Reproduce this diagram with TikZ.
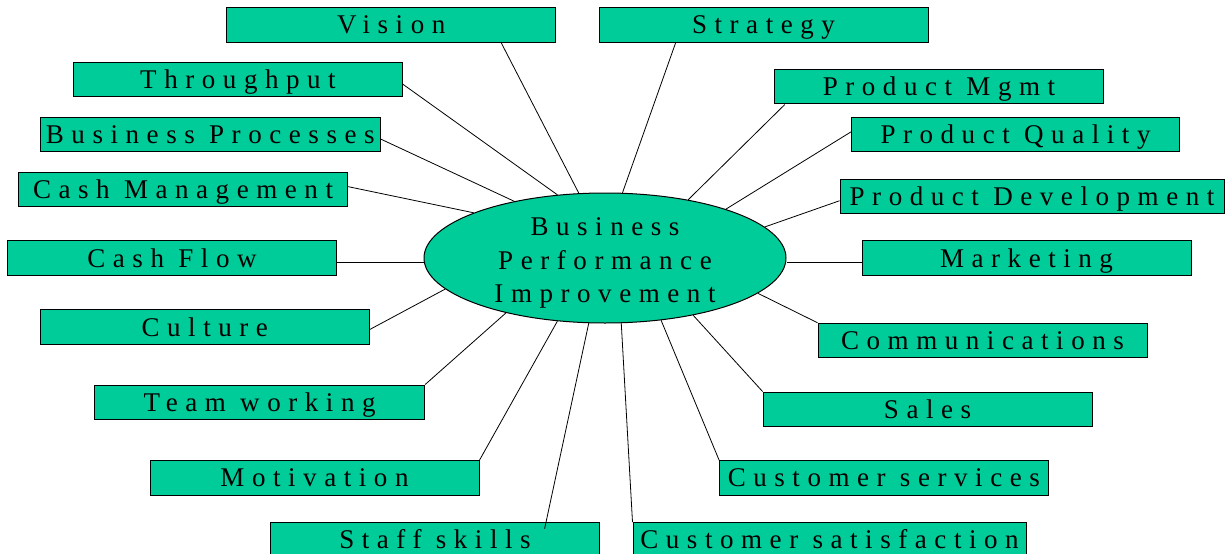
\documentclass[tikz,border=0pt]{standalone}
\usepackage{fontspec}
\setmainfont{Liberation Serif}
\newfontfamily\spfont[LetterSpace=28]{Liberation Serif}
\usetikzlibrary{calc,shapes.geometric}
\definecolor{boxgreen}{RGB}{0,204,153}
\newcommand{\bt}[1]{\makebox[0pt]{#1}}
\begin{document}
\begin{tikzpicture}[x=1pt,y=-1pt,
  font=\spfont\fontsize{27}{33.3}\selectfont,
  box/.style={draw=black, line width=1pt, fill=boxgreen, minimum height=34.5pt,
    inner sep=0pt, text height=18pt, text depth=0pt},
  conn/.style={draw=black, line width=0.8pt},
  hub/.style={ellipse, draw=black, line width=1pt, fill=boxgreen, inner sep=0pt,
    minimum width=362pt, minimum height=130pt}]
\useasboundingbox (0,0) rectangle (1229,554);
\fill[white] (0,0) rectangle (1229,554);
\clip (0,0) rectangle (1229,554);
% hub
\node[hub] (c) at (605,258) {\makebox[0pt]{\raisebox{-10.6pt}[0pt][0pt]{\begin{tabular}{@{}c@{}}Business\\Performance\\Improvement\end{tabular}}}};
% boxes
\node[box, minimum width=328.7pt] (v)   at (391.3,24.8) {\bt{Vision}};
\node[box, minimum width=329pt]   (s)   at (763.5,24.8) {\bt{Strategy}};
\node[box, minimum width=329pt]   (t)   at (238,79.7)   {\bt{Throughput}};
\node[box, minimum width=329pt]   (pm)  at (939,86.7)   {\bt{Product Mgmt}};
\node[box, minimum width=340pt]   (bp)  at (210.3,134.5) {\bt{Business Processes}};
\node[box, minimum width=328pt]   (pq)  at (1015.5,134.7) {\bt{Product Quality}};
\node[box, minimum width=329.4pt] (cm)  at (183,189.5)  {\bt{Cash Management}};
\node[box, minimum width=384pt]   (pd)  at (1032,196.5) {\bt{Product Development}};
\node[box, minimum width=329.4pt] (cf)  at (172,258)    {\bt{Cash Flow}};
\node[box, minimum width=329pt]   (mk)  at (1026.5,258) {\bt{Marketing}};
\node[box, minimum width=329pt]   (cu)  at (204.8,327)  {\bt{Culture}};
\node[box, minimum width=329pt]   (co)  at (982.5,340.5) {\bt{Communications}};
\node[box, minimum width=330pt]   (tw)  at (259.6,402.3) {\bt{Team working}};
\node[box, minimum width=329pt]   (sa)  at (927.6,409.3) {\bt{Sales}};
\node[box, minimum width=329pt]   (mo)  at (314.5,477.9) {\bt{Motivation}};
\node[box, minimum width=328.4pt] (csv) at (883.8,477.9) {\bt{Customer services}};
\node[box, minimum width=329pt]   (ss)  at (435,539.9)  {\bt{Staff skills}};
\node[box, minimum width=393pt]   (cst) at (829.5,539.9) {\bt{Customer satisfaction}};
% helper coordinates
\coordinate (cfp) at ($(cf.north east)!0.62!(cf.south east)$);
\coordinate (mkp) at ($(mk.north west)!0.61!(mk.south west)$);
\coordinate (sse) at ($(ss.north west)+(274.6,6.6)$);
% connectors
\draw[conn] (c.112.6) -- ($(v.south west)!0.833!(v.south east)$);
\draw[conn] (c.75.8) -- ($(s.south west)!0.234!(s.south east)$);
\draw[conn] (c.127.3) -- ($(t.north east)!0.63!(t.south east)$);
\draw[conn] (c.148.3) -- ($(bp.north east)!0.63!(bp.south east)$);
\draw[conn] (c.161.8) -- ($(cm.north east)!0.42!(cm.south east)$);
\draw[conn] (cfp) -- (cfp -| c.west);
\draw[conn] (c.191.4) -- ($(cu.north east)!0.57!(cu.south east)$);
\draw[conn] (c.209.6) -- (tw.north east);
\draw[conn] (c.233.4) -- (mo.north east);
\draw[conn] (c.256.7) -- (sse);
\draw[conn] (c.284.3) -- (cst.north west);
\draw[conn] (c.312.2) -- (csv.north west);
\draw[conn] (c.327.7) -- (sa.north west);
\draw[conn] (c.347.9) -- (co.north west);
\draw[conn] (mkp) -- (mkp -| c.east);
\draw[conn] (c.11.3) -- ($(pd.north west)!0.62!(pd.south west)$);
\draw[conn] (c.22.1) -- ($(pq.north west)!0.42!(pq.south west)$);
\draw[conn] (c.35.5) -- ($(pm.south west)!0.033!(pm.south east)$);
\end{tikzpicture}
\end{document}
